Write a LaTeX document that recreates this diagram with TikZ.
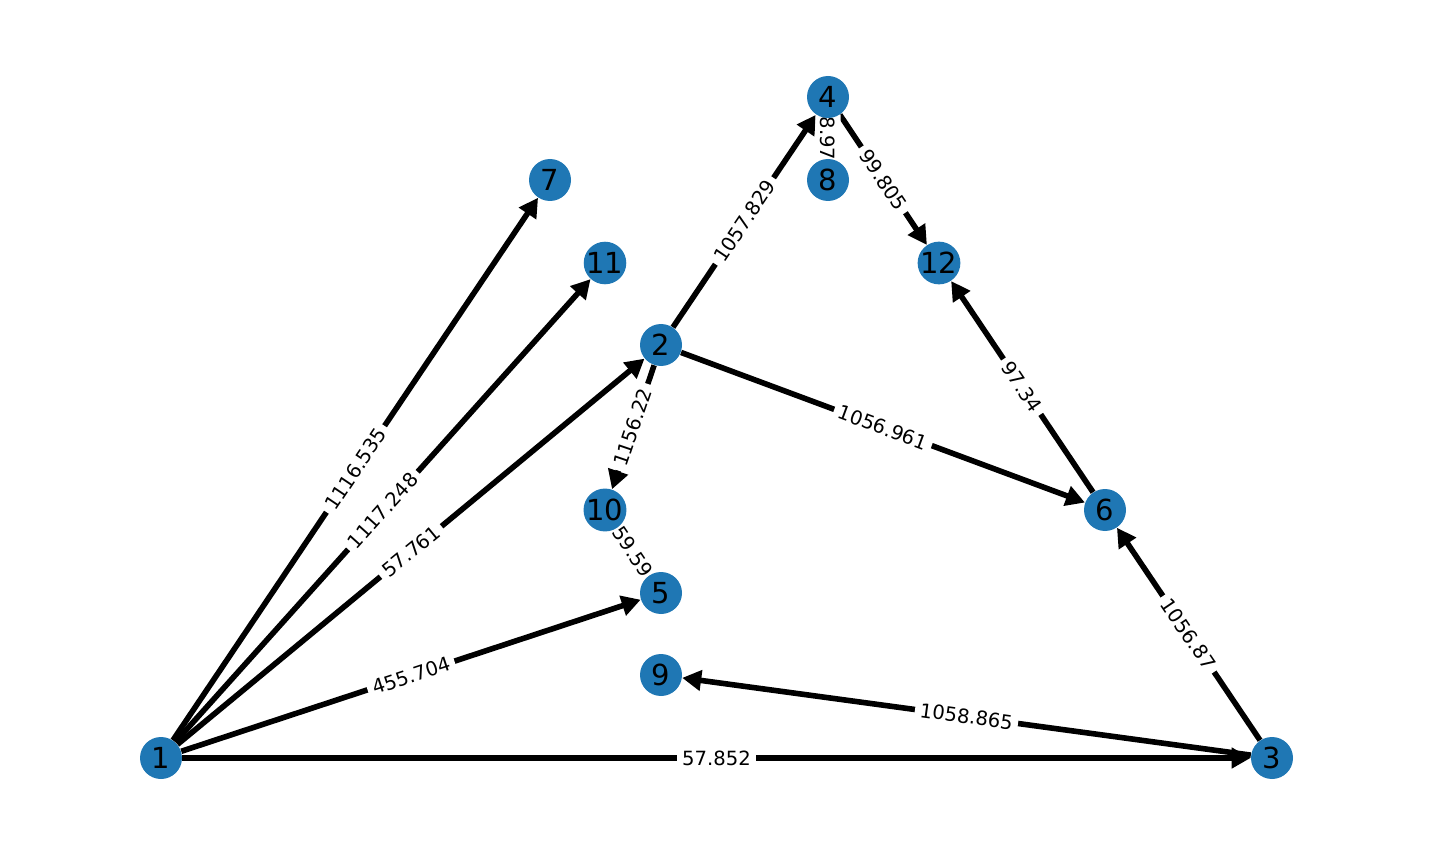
\documentclass[tikz,border=0pt]{standalone}
\usepackage{fontspec}
\setmainfont{DejaVu Sans}
\usetikzlibrary{arrows.meta}
\pgfdeclarelayer{edgelayer}
\pgfsetlayers{edgelayer,main}
\definecolor{nodeblue}{HTML}{1F77B4}
\begin{document}
\begin{tikzpicture}[x=0.5pt,y=-0.5pt,
  vtx/.style={circle,fill=nodeblue,minimum size=21pt,inner sep=0pt,font=\fontsize{14.5}{14.5}\selectfont},
  edge/.style={line width=2.8pt,-{Triangle[length=9.5pt,width=10pt]}},
  elabbase/.style={fill=white,rounded corners=2pt,inner sep=2.6pt,font=\fontsize{9.8}{10}\selectfont},
  elab/.style={elabbase,sloped}]
\useasboundingbox (0,0) rectangle (1432,856);
\node[vtx] (n1) at (161,758) {1};
\node[vtx] (n2) at (661,345) {2};
\node[vtx] (n3) at (1272,758) {3};
\node[vtx] (n4) at (828,97) {4};
\node[vtx] (n5) at (661,593) {5};
\node[vtx] (n6) at (1105,510) {6};
\node[vtx] (n7) at (550,180) {7};
\node[vtx] (n8) at (828,180) {8};
\node[vtx] (n9) at (661,675) {9};
\node[vtx] (n10) at (605,510) {10};
\node[vtx] (n11) at (605,263) {11};
\node[vtx] (n12) at (939,263) {12};
\begin{pgfonlayer}{edgelayer}
\draw[edge] (n1) -- node[elab] {1116.535} (n7);
\draw[edge] (n1) -- node[elab] {1117.248} (n11);
\draw[edge] (n1) -- node[elab] {57.761} (n2);
\draw[edge] (n1) -- node[elab] {455.704} (n5);
\draw[edge] (n1) -- node[elab] {57.852} (n3);
\draw[edge] (n2) -- node[elab] {1057.829} (n4);
\draw[edge] (n2) -- node[elab] {1156.22} (n10);
\draw[edge] (n2) -- node[elab] {1056.961} (n6);
\draw[edge] (n4) -- node[elab] {99.805} (n12);
\draw[edge] (n4) -- node[elabbase,rotate=-90] {8.97} (n8);
\draw[edge] (n10) -- node[elab] {59.59} (n5);
\draw[edge] (n6) -- node[elab] {97.34} (n12);
\draw[edge] (n3) -- node[elab] {1056.87} (n6);
\draw[edge] (n3) -- node[elab] {1058.865} (n9);
\end{pgfonlayer}
\end{tikzpicture}
\end{document}
